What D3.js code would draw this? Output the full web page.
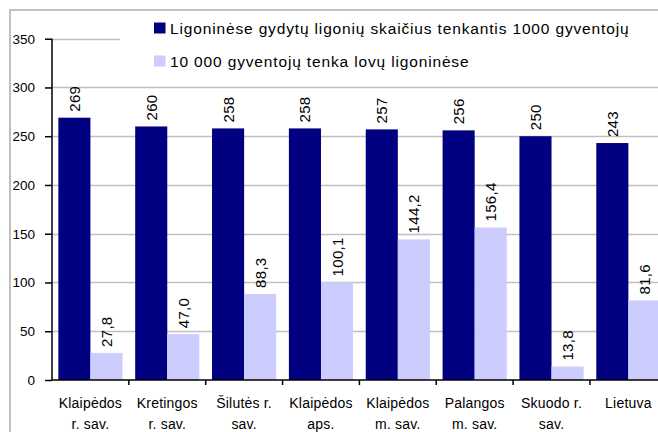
<!DOCTYPE html>
<html><head><meta charset="utf-8">
<script src="https://cdn.jsdelivr.net/npm/d3@7"></script>
<style>body{margin:0;background:#fff}svg{display:block;font-family:"Liberation Sans",Arial,sans-serif}</style>
</head><body><svg id="c" width="658" height="432"></svg>
<script>
const categories = [["Klaipėdos","r. sav."],["Kretingos","r. sav."],["Šilutės r.","sav."],["Klaipėdos","aps."],["Klaipėdos","m. sav."],["Palangos","m. sav."],["Skuodo r.","sav."],["Lietuva",""]];
const doctorsPer1000 = [269,260,258,258,257,256,250,243];
const bedsPer10000 = [27.8,47.0,88.3,100.1,144.2,156.4,13.8,81.6];
const seriesNames = ["Ligoninėse gydytų ligonių skaičius tenkantis 1000 gyventojų","10 000 gyventojų tenka lovų ligoninėse"];
const yTicks = [0,50,100,150,200,250,300,350];
const colors = ["#000080","#CCCCFF"];

const svg = d3.select("#c");
const x0 = 52, step = 76.85, yBottom = 380, yTop = 38.7;
const x = d3.scaleBand().domain(d3.range(categories.length)).range([x0, x0+step*categories.length]).paddingInner(0.165).paddingOuter(0.0825);
const x1 = d3.scaleBand().domain([0,1]).range([0, x.bandwidth()]);
const y = d3.scaleLinear().domain([0,350]).range([yBottom, yTop]);

// outer border
svg.append("rect").attr("x",10).attr("y",10).attr("width",700).attr("height",500).attr("fill","none").attr("stroke","#c0c0c0").attr("stroke-width",2);

// gridlines
svg.append("g").selectAll("line").data(yTicks.filter(d=>d>0)).join("line")
  .attr("x1",x0).attr("x2",658).attr("y1",d=>Math.round(y(d))+0.5).attr("y2",d=>Math.round(y(d))+0.5)
  .attr("stroke","#c0c0c0").attr("stroke-width",1.5);

// legend background
svg.append("rect").attr("x",120).attr("y",11).attr("width",540).attr("height",74).attr("fill","#fff");

const fmt = (v,k) => k===0 ? String(v) : v.toFixed(1).replace(".", ",");
const data = categories.map((c,i)=>({i, vals:[doctorsPer1000[i], bedsPer10000[i]]}));

const g = svg.append("g").selectAll("g").data(data).join("g").attr("transform",d=>`translate(${x(d.i)},0)`);
g.selectAll("rect").data(d=>d.vals.map((v,k)=>({v,k}))).join("rect")
  .attr("x",d=>x1(d.k)).attr("width",x1.bandwidth()).attr("y",d=>y(d.v)).attr("height",d=>yBottom-y(d.v))
  .attr("fill",d=>colors[d.k]);
g.selectAll("text").data(d=>d.vals.map((v,k)=>({v,k}))).join("text")
  .attr("transform",d=>`translate(${x1(d.k)+x1.bandwidth()/2+5.5},${y(d.v)-6}) rotate(-90)`)
  .attr("font-size",15).attr("letter-spacing",0.3).attr("fill","#000").text(d=>fmt(d.v,d.k));

// axes
const yAxis = d3.axisLeft(y).tickValues(yTicks).tickSize(7).tickPadding(10);
const ya = svg.append("g").attr("transform",`translate(${x0},0)`).call(yAxis);
ya.select(".domain").attr("stroke","#000").attr("stroke-width",1.5).attr("d",`M0,${yTop}V${yBottom}`);
ya.selectAll(".tick line").attr("stroke","#000").attr("stroke-width",1.5);
ya.selectAll("text").attr("font-size",13.5).attr("font-family","Liberation Sans, Arial, sans-serif").attr("fill","#000");

svg.append("line").attr("x1",x0).attr("x2",658).attr("y1",yBottom).attr("y2",yBottom).attr("stroke","#000").attr("stroke-width",1.5);
svg.append("g").selectAll("line").data(d3.range(1,categories.length)).join("line")
  .attr("x1",i=>x0+step*i).attr("x2",i=>x0+step*i).attr("y1",yBottom).attr("y2",yBottom+5).attr("stroke","#000").attr("stroke-width",1.5);

const cl = svg.append("g").selectAll("text").data(categories).join("text")
  .attr("text-anchor","middle").attr("font-size",14).attr("letter-spacing",0.2).attr("fill","#000");
cl.each(function(c,i){
  const t = d3.select(this);
  c.forEach((line,j)=>{ if(line) t.append("tspan").attr("x",x0+step*(i+0.5)).attr("y",408+j*20.5).text(line); });
});

// legend
const lg = svg.append("g").selectAll("g").data(seriesNames).join("g").attr("transform",(d,i)=>`translate(154,${22.5+i*33})`);
lg.append("rect").attr("width",11.5).attr("height",11).attr("fill",(d,i)=>colors[i]);
lg.append("text").attr("x",16).attr("y",11.5).attr("font-size",15.5).attr("letter-spacing",0.85).attr("fill","#000").text(d=>d);
</script></body></html>
